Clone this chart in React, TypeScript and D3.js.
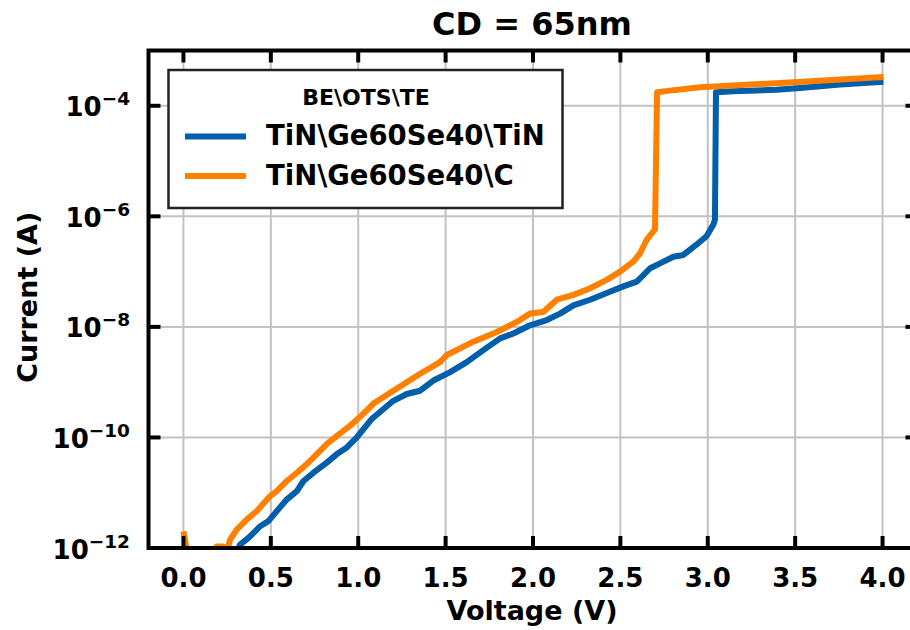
import * as d3 from "d3";

// I-V sweep
const voltageTiN = [0.0, 0.04, 0.1, 0.2, 0.3, 0.324, 0.372, 0.439, 0.486, 0.534, 0.592, 0.649, 0.687, 0.744, 0.82, 0.878, 0.935, 0.992, 1.068, 1.087, 1.201, 1.278, 1.354, 1.43, 1.526, 1.621, 1.716, 1.812, 1.888, 1.983, 2.079, 2.155, 2.231, 2.327, 2.422, 2.517, 2.594, 2.67, 2.727, 2.803, 2.86, 2.937, 2.994, 3.032, 3.041, 3.047, 3.146, 3.395, 3.528, 3.757, 4.005];
const currentTiN = [1.17e-12, 8e-13, 7e-13, 7e-13, 8e-13, 1.15e-12, 1.52e-12, 2.48e-12, 3.06e-12, 4.66e-12, 7.6e-12, 1.07e-11, 1.63e-11, 2.3e-11, 3.5e-11, 5.0e-11, 6.6e-11, 1.0e-10, 2.0e-10, 2.3e-10, 4.6e-10, 6.1e-10, 7.0e-10, 1.07e-9, 1.52e-9, 2.3e-9, 3.8e-9, 6.2e-9, 7.6e-9, 1.07e-8, 1.33e-8, 1.74e-8, 2.45e-8, 3.1e-8, 4.1e-8, 5.4e-8, 6.6e-8, 1.15e-7, 1.41e-7, 1.86e-7, 2.0e-7, 3.1e-7, 4.4e-7, 7.1e-7, 8.7e-7, 1.75e-4, 1.83e-4, 1.95e-4, 2.1e-4, 2.43e-4, 2.73e-4];

const voltageC = [0.0, 0.02, 0.05, 0.12, 0.18, 0.19, 0.227, 0.245, 0.267, 0.305, 0.363, 0.42, 0.496, 0.534, 0.592, 0.649, 0.706, 0.763, 0.82, 0.878, 0.954, 1.03, 1.087, 1.201, 1.354, 1.468, 1.507, 1.659, 1.793, 1.907, 1.983, 2.059, 2.136, 2.231, 2.327, 2.422, 2.498, 2.574, 2.613, 2.651, 2.698, 2.71, 2.784, 2.956, 3.49, 4.005];
const currentC = [2.0e-12, 9e-13, 7e-13, 7e-13, 8e-13, 1.07e-12, 1.07e-12, 8e-13, 1.42e-12, 2.16e-12, 3.3e-12, 4.66e-12, 8.7e-12, 1.07e-11, 1.63e-11, 2.3e-11, 3.3e-11, 5.0e-11, 7.6e-11, 1.07e-10, 1.63e-10, 2.7e-10, 4.1e-10, 7.0e-10, 1.42e-9, 2.3e-9, 3.1e-9, 5.4e-9, 8.1e-9, 1.23e-8, 1.74e-8, 1.86e-8, 3.1e-8, 3.8e-8, 5.0e-8, 7.1e-8, 1.0e-7, 1.52e-7, 2.15e-7, 3.8e-7, 5.8e-7, 1.75e-4, 1.88e-4, 2.16e-4, 2.66e-4, 3.3e-4];

const seriesNames = ["TiN\\Ge60Se40\\TiN", "TiN\\Ge60Se40\\C"];
const seriesColors = ["#005eab", "#ff8000"];
const legendTitle = "BE\\OTS\\TE";
const xTicks = [0, 0.5, 1.0, 1.5, 2.0, 2.5, 3.0, 3.5, 4.0];
const yTickExps = [-12, -10, -8, -6, -4];

const W = 910;
const H = 630;
const FONT = "'DejaVu Sans', sans-serif";

export default function App() {
  const x = d3.scaleLinear().domain([-0.2, 4.2]).range([148.5, 917.5]);
  const y = d3.scaleLog().domain([1e-12, 1e-3]).range([548, 50.5]);
  const [x0, x1] = x.range();
  const [y0, y1] = y.range();

  const line = d3
    .line<[number, number]>()
    .x((d) => x(d[0]))
    .y((d) => y(d[1]));

  const series = [
    d3.zip(voltageTiN, currentTiN) as [number, number][],
    d3.zip(voltageC, currentC) as [number, number][],
  ];
  const tickLen = 12;

  return (
    <svg
      width={W}
      height={H}
      style={{ position: "absolute", left: 0, top: 0, background: "#fff" }}
      fontFamily={FONT}
      fontWeight="bold"
    >
      <defs>
        <clipPath id="plot">
          <rect x={x0} y={y1} width={x1 - x0} height={y0 - y1} />
        </clipPath>
      </defs>

      {/* grid */}
      {xTicks.map((t) => (
        <line key={"gx" + t} x1={x(t)} x2={x(t)} y1={y0} y2={y1} stroke="#c2c2c2" strokeWidth={2} />
      ))}
      {yTickExps.map((e) => (
        <line key={"gy" + e} x1={x0} x2={x1} y1={y(Math.pow(10, e))} y2={y(Math.pow(10, e))} stroke="#c2c2c2" strokeWidth={2} />
      ))}

      {/* curves */}
      <g clipPath="url(#plot)">
        {series.map((s, i) => (
          <path key={i} d={line(s) || ""} fill="none" stroke={seriesColors[i]} strokeWidth={6} strokeLinejoin="round" />
        ))}
      </g>

      {/* ticks, inward on all sides */}
      {xTicks.map((t) => (
        <g key={"tx" + t} stroke="#000" strokeWidth={4}>
          <line x1={x(t)} x2={x(t)} y1={y0} y2={y0 - tickLen} />
          <line x1={x(t)} x2={x(t)} y1={y1} y2={y1 + tickLen} />
        </g>
      ))}
      {yTickExps.map((e) => (
        <g key={"ty" + e} stroke="#000" strokeWidth={4}>
          <line x1={x0} x2={x0 + tickLen} y1={y(Math.pow(10, e))} y2={y(Math.pow(10, e))} />
          <line x1={x1} x2={x1 - tickLen} y1={y(Math.pow(10, e))} y2={y(Math.pow(10, e))} />
        </g>
      ))}

      {/* spines */}
      <rect x={x0} y={y1} width={x1 - x0} height={y0 - y1} fill="none" stroke="#000" strokeWidth={4} />

      {/* tick labels */}
      {xTicks.map((t) => (
        <text key={"lx" + t} x={x(t)} y={587} textAnchor="middle" fontSize={26}>
          {d3.format(".1f")(t)}
        </text>
      ))}
      {yTickExps.map((e) => (
        <text key={"ly" + e} x={130} y={y(Math.pow(10, e)) + 10.5} textAnchor="end" fontSize={26}>
          10
          <tspan fontSize={18.5} dy={-11}>
            {"\u2212" + Math.abs(e)}
          </tspan>
        </text>
      ))}

      {/* axis titles */}
      <text x={(x0 + x1) / 2 - 1} y={620} textAnchor="middle" fontSize={27}>
        Voltage (V)
      </text>
      <text transform={`translate(37,${(y0 + y1) / 2 - 2}) rotate(-90)`} textAnchor="middle" fontSize={27}>
        Current (A)
      </text>
      <text x={532} y={35} textAnchor="middle" fontSize={32}>
        CD = 65nm
      </text>

      {/* legend */}
      <g>
        <rect x={168.5} y={70} width={394} height={138} fill="#fff" stroke="#222" strokeWidth={2.5} />
        <text x={366} y={105} textAnchor="middle" fontSize={22}>
          {legendTitle}
        </text>
        {seriesNames.map((name, i) => (
          <g key={name}>
            <line x1={185} x2={246} y1={136.5 + i * 39.5} y2={136.5 + i * 39.5} stroke={seriesColors[i]} strokeWidth={6} />
            <text x={266} y={145 + i * 40} fontSize={27.5}>
              {name}
            </text>
          </g>
        ))}
      </g>
    </svg>
  );
}
